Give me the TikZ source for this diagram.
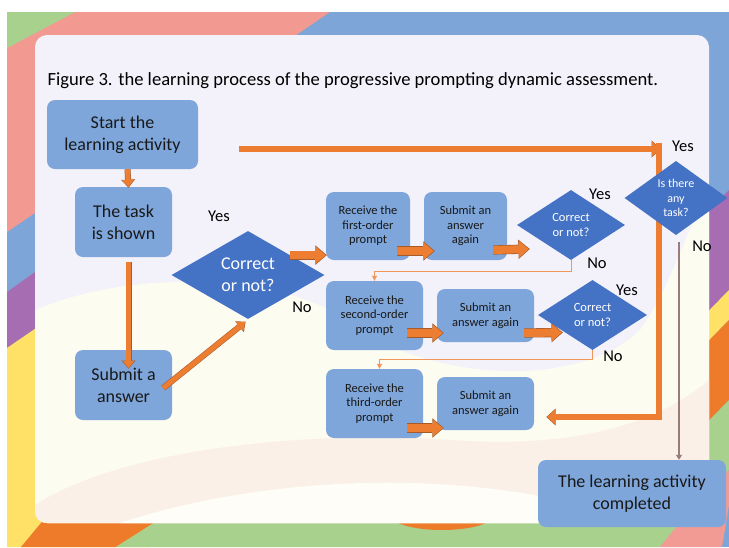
\documentclass[tikz,border=0pt]{standalone}
\usepackage{fontspec}
\setmainfont{Carlito}
\usetikzlibrary{shapes.geometric, arrows.meta, calc}

\definecolor{boxblue}{HTML}{7EA6DA}
\definecolor{diamblue}{HTML}{4472C4}
\definecolor{arrowfill}{HTML}{ED7D31}
\definecolor{arrowedge}{HTML}{A65A2A}
\definecolor{taskline}{HTML}{9A7B7B}
\definecolor{bgblue}{HTML}{7EA5D8}
\definecolor{bgsalmon}{HTML}{F29A92}
\definecolor{bggreen}{HTML}{A8D18D}
\definecolor{bgpurple}{HTML}{A66DB3}
\definecolor{bgyellow}{HTML}{FFE168}
\definecolor{bgorange}{HTML}{EE7B2A}
\definecolor{bgpink}{HTML}{F29A94}
\definecolor{panel}{HTML}{F3F1F9}
\definecolor{cream}{HTML}{FDFCF1}
\definecolor{peach}{HTML}{FAF0E8}

\tikzset{
  box/.style={rectangle, rounded corners=8pt, fill=boxblue, text=black!90, align=center, inner sep=1pt},
  bigtext/.style={font=\fontsize{18}{22}\selectfont},
  smalltext/.style={font=\fontsize{12.5}{14.5}\selectfont},
  check/.style={diamond, fill=diamblue, text=white, align=center, inner sep=0pt},
  answer/.style={font=\fontsize{16.5}{19}\selectfont},
  thinflow/.style={draw=arrowfill, line width=5pt, -{Triangle[length=7pt,width=12pt,line width=0pt]},
    preaction={draw=arrowedge, line width=6pt, -{Triangle[length=8pt,width=14pt,line width=0pt]}, shorten >=-0.8pt}},
  block/.style={draw=arrowfill, line width=8pt, -{Triangle[length=10pt,width=17pt,line width=0pt]},
    preaction={draw=arrowedge, line width=9.2pt, -{Triangle[length=11.4pt,width=19.4pt,line width=0pt]}, shorten >=-1pt}},
  bigflow/.style={draw=arrowfill, line width=5.5pt, line join=miter, -{Triangle[length=8pt,width=15pt,line width=0pt]},
    preaction={draw=arrowedge, line width=6.7pt, -{Triangle[length=9.2pt,width=17pt,line width=0pt]}, shorten >=-0.8pt}},
  retry/.style={draw=arrowfill!80, line width=0.8pt, -{Triangle[length=5pt,width=5pt]}},
  endline/.style={draw=taskline, line width=2.4pt, -{Triangle[length=5pt,width=6pt]}},
}

\begin{document}
\begin{tikzpicture}[x=1pt, y=-1pt]
  \useasboundingbox (0,0) rectangle (729,547);

  % backdrop
  \fill[white] (0,0) rectangle (729,547);
  \fill[bgblue] (7,12) rectangle (729,547);
  \fill[bgsalmon] (7,12) -- (330,12) -- (7,232) -- cycle;
  \fill[bggreen] (7,12) -- (75,12) -- (7,48) -- cycle;
  \fill[bgpurple] (7,292) -- (150,190) -- (150,250) -- (7,348) -- cycle;
  \fill[bgyellow] (7,348) -- (150,250) -- (150,547) -- (7,547) -- cycle;
  \fill[bgorange] (21,547) -- (60,500) -- (190,500) -- (116,547) -- cycle;
  \fill[bggreen] (116,547) -- (190,500) -- (700,500) -- (660,547) -- cycle;
  \fill[bgorange] (442,515) ellipse (52 and 15);
  \fill[bgpurple] (690,230) -- (729,190) -- (729,290) -- (690,330) -- cycle;
  \fill[bgyellow] (690,330) -- (729,290) -- (729,320) -- (690,360) -- cycle;
  \fill[bgorange] (690,360) -- (729,320) -- (729,400) -- (690,440) -- cycle;
  \fill[bggreen] (690,440) -- (729,400) -- (729,470) -- (690,510) -- cycle;
  \fill[bgpink] (690,510) -- (729,470) -- (729,505) -- (722,547) -- (660,547) -- cycle;

  % white card
  \fill[panel, rounded corners=12pt] (35,35) rectangle (709,523);
  \begin{scope}
    \clip[rounded corners=12pt] (35,35) rectangle (709,523);
    \fill[cream] (35,310) .. controls (130,270) and (260,275) .. (330,310)
      .. controls (420,385) and (580,390) .. (640,330)
      .. controls (670,290) and (690,220) .. (709,190) -- (709,523) -- (35,523) -- cycle;
    \fill[peach] (35,505) .. controls (120,450) and (300,430) .. (450,440)
      .. controls (560,448) and (650,430) .. (709,380) -- (709,523) -- (35,523) -- cycle;
    \fill[cream!60!white] (120,523) .. controls (250,480) and (420,470) .. (560,500)
      .. controls (620,512) and (680,500) .. (709,490) -- (709,523) -- cycle;
  \end{scope}

  \node[anchor=base west, font=\fontsize{18.6}{21}\selectfont] (title) at (44,85)
    {Figure 3. the learning process of the progressive prompting dynamic assessment.};

  \node[box, bigtext, minimum width=151pt, minimum height=69pt] (start) at (122.5,134.5) {Start the\\learning activity};
  \node[box, bigtext, minimum width=97pt, minimum height=70pt] (task) at (123.5,222) {The task\\is shown};
  \node[box, bigtext, minimum width=97pt, minimum height=70pt] (answer) at (123.5,385) {Submit a\\answer};
  \node[check, bigtext, minimum width=153pt, minimum height=88pt] (check1) at (248,275) {Correct\\or not?};

  \node[box, smalltext, minimum width=84pt, minimum height=68pt] (first) at (368,226) {Receive the\\first-order\\prompt};
  \node[box, smalltext, minimum width=83pt, minimum height=68pt] (again1) at (465.5,226) {Submit an\\answer\\again};
  \node[check, smalltext, minimum width=108pt, minimum height=70pt] (check2) at (571,225) {Correct\\or not?};

  \node[box, smalltext, minimum width=97pt, minimum height=69pt] (second) at (374.5,315.5) {Receive the\\second-order\\prompt};
  \node[box, smalltext, minimum width=97pt, minimum height=53pt] (again2) at (485.5,315.5) {Submit an\\answer again};
  \node[check, smalltext, minimum width=109pt, minimum height=70pt] (check3) at (592.5,315) {Correct\\or not?};

  \node[box, smalltext, minimum width=97pt, minimum height=69pt] (third) at (374.5,403.5) {Receive the\\third-order\\prompt};
  \node[box, smalltext, minimum width=97pt, minimum height=53pt] (again3) at (485.5,403.5) {Submit an\\answer again};

  \node[box, bigtext, minimum width=188pt, minimum height=67pt] (done) at (632,493.5) {The learning activity\\completed};

  % main line
  \draw[thinflow] ([xshift=5pt]start.south) -- ([xshift=5pt]task.north);
  \draw[thinflow] ([xshift=5pt,yshift=-5pt]task.south) -- ([xshift=5pt,yshift=-18pt]answer.north);
  \draw[thinflow] ([xshift=-9pt,yshift=-3pt]answer.east) -- ([xshift=-3pt,yshift=-3pt]check1.south);
  \coordinate (c1out) at ($(check1.north)!0.55!(check1.east)$);
  \draw[block] (c1out) -- (c1out -| first.west);

  % prompting rounds
  \draw[block] ([xshift=-13pt,yshift=-25pt]first.east) -- ([xshift=10pt,yshift=-25pt]again1.west);
  \draw[block] ([xshift=-14pt,yshift=-24pt]again1.east) -- ([xshift=12pt,yshift=-24pt]check2.west);
  \draw[block] ([xshift=-16pt,yshift=-17.5pt]second.east) -- ([xshift=6pt,yshift=-17.5pt]again2.west);
  \draw[block] ([xshift=-10pt,yshift=-17.5pt]again2.east) -- ([xshift=24pt,yshift=-17.5pt]check3.west);
  \draw[block] ([xshift=-16pt,yshift=-24.5pt]third.east) -- ([xshift=6pt,yshift=-24.5pt]again3.west);
  \draw[retry] (check2.south) -- ++(0,11) -| (second.north);
  \draw[retry] (check3.south) -- ++(0,9) -| ([xshift=5pt]third.north);

  % loop back for the next task
  \coordinate (turn) at (659,149);
  \coordinate (back) at (659,417);
  \draw[bigflow] ($(start.east |- turn)+(41,0)$) -- ([xshift=1pt]turn);
  \draw[bigflow] ([yshift=6pt]turn) -- (back) -- ($(back -| again3.east)+(13,0)$);

  \node[check, font=\fontsize{12}{14.5}\selectfont, minimum width=103pt, minimum height=70pt] (more) at (676,198) {Is there\\any\\task?};
  \coordinate (drop) at ([xshift=3pt,yshift=-7pt]more.south);
  \draw[endline] (drop) -- (drop |- done.north);

  \node[answer] (yes1) at (219,216) {Yes};
  \node[answer] (no1) at (302,307) {No};
  \node[answer] (yes2) at (600,194) {Yes};
  \node[answer] (no2) at (597,263) {No};
  \node[answer] (yes3) at (627,290) {Yes};
  \node[answer] (no3) at (613,356) {No};
  \node[answer] (yes4) at (683,146) {Yes};
  \node[answer] (no4) at (702,246) {No};
\end{tikzpicture}
\end{document}
